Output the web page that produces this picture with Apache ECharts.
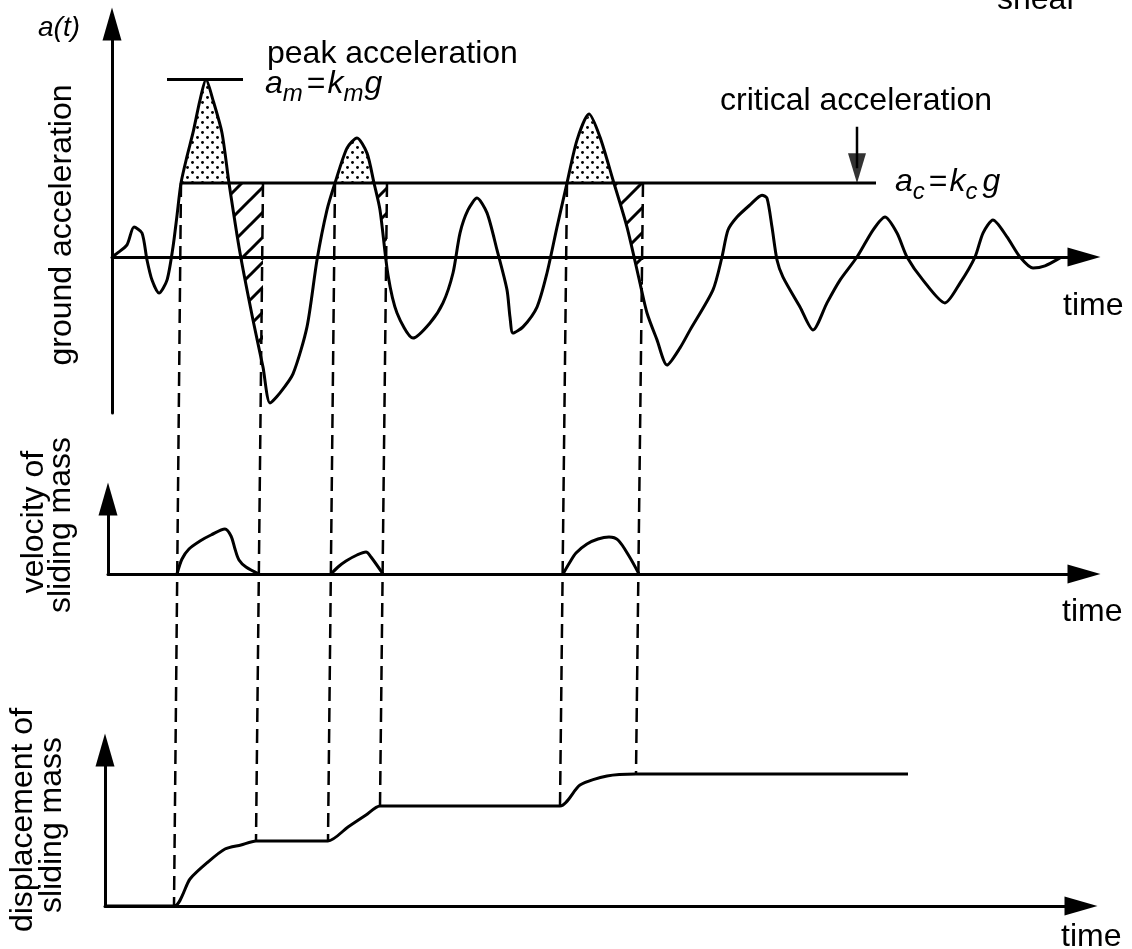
<!DOCTYPE html>
<html>
<head>
<meta charset="utf-8">
<script src="https://cdn.jsdelivr.net/npm/echarts@6/dist/echarts.min.js"></script>
<style>
  html, body { margin: 0; padding: 0; background: #fff; }
  #chart { width: 1132px; height: 949px; }
</style>
</head>
<body>
<div id="chart"></div>
<script>
// Newmark sliding-block idea: ground acceleration, sliding velocity, sliding displacement.
const kc = 0.25;   // critical (yield) acceleration, a_c = k_c g
const km = 0.6;    // peak acceleration, a_m = k_m g

// ground acceleration record [time, a]
const groundAccel = [
  [0,0],[0.5,0.012],[1.5,0.041],[2.2,0.101],[3.0,0.081],[3.5,-0.01],[4.0,-0.078],[4.7,-0.122],
  [5.5,-0.078],[6.1,0.034],[6.5,0.14],[6.9,0.25],[7.5,0.34],[8.1,0.42],[8.8,0.53],[9.4,0.6],
  [10.1,0.53],[11.0,0.419],[11.7,0.25],[12.8,0.014],[14.1,-0.213],[15.1,-0.372],[15.8,-0.493],
  [16.8,-0.459],[18.1,-0.395],[19.5,-0.236],[20.5,-0.01],[21.5,0.159],[22.3,0.25],[23.5,0.368],
  [24.5,0.402],[25.5,0.351],[26.2,0.25],[26.8,0.159],[27.6,-0.061],[28.5,-0.189],[30.1,-0.274],
  [31.8,-0.223],[33.1,-0.155],[34.1,-0.054],[34.8,0.081],[35.6,0.159],[36.5,0.199],[37.5,0.149],
  [38.5,0.024],[39.5,-0.111],[39.8,-0.203],[40.1,-0.257],[41.1,-0.236],[42.5,-0.169],[43.5,-0.054],
  [44.5,0.101],[45.5,0.25],[46.5,0.395],[47.7,0.483],[48.8,0.405],[50.1,0.26],[51.5,0.101],
  [52.8,-0.088],[53.5,-0.189],[54.5,-0.28],[55.5,-0.365],[56.8,-0.307],[57.8,-0.247],[60.1,-0.111],
  [61.0,0],[61.6,0.091],[62.5,0.135],[63.8,0.176],[65.0,0.209],[65.5,0.199],[66.0,0.101],
  [66.5,-0.01],[67.1,-0.068],[68.8,-0.169],[70.1,-0.247],[71.5,-0.155],[72.8,-0.078],[74.5,0],
  [76.1,0.091],[77.3,0.135],[78.5,0.081],[79.5,0],[81.1,-0.078],[83.3,-0.155],[84.8,-0.088],
  [86.3,0],[87.1,0.081],[88.1,0.125],[89.5,0.068],[90.8,0],[92.1,-0.037],[93.3,-0.03],[94.8,-0.003]
];

// sliding episodes: block starts moving when a > kc, stops when relative velocity returns to zero
const slipStart = [6.9, 22.3, 45.5];
const slipEnd   = [15.1, 27.5, 53.1];

// relative velocity of the sliding mass [time, v]
const velocityHump1 = [[6.9,0],[7.4,0.15],[8.1,0.25],[9.2,0.33],[10.3,0.39],[11.7,0.45],[12.3,0.38],[12.7,0.25],[13.1,0.14],[13.8,0.07],[15.1,0]];
const velocityHump2 = [[22.3,0],[23.0,0.07],[23.8,0.13],[24.9,0.19],[25.8,0.22],[26.3,0.17],[27.5,0]];
const velocityHump3 = [[45.5,0],[46.2,0.12],[46.8,0.21],[47.9,0.30],[49.0,0.35],[50.1,0.37],[51.0,0.34],[52.1,0.18],[53.1,0]];

// cumulative displacement of the sliding mass [time, d]
const slidingDisplacement = [
  [0,0],[6.9,0],[8.5,0.27],[10.3,0.44],[12.0,0.57],[13.6,0.61],[15.1,0.65],[22.3,0.65],
  [24.3,0.79],[26.1,0.91],[27.5,1.0],[45.5,1.0],[47.5,1.21],[50.2,1.30],[53.1,1.32],[80.3,1.32]
];

// reference marks
const peakTick = [5.5, 13.1];          // short bar at the peak level
const criticalSpan = [6.9, 76.4];      // extent of the a = kc line
const criticalPointer = { t: 74.5, from: 0.44, head: 0.30 };

// ---------- helpers ----------
function interp(series, t) {
  for (let i = 0; i < series.length - 1; i++) {
    const [t0, v0] = series[i], [t1, v1] = series[i + 1];
    if (t >= t0 && t <= t1) return v0 + (v1 - v0) * (t - t0) / (t1 - t0);
  }
  return series[series.length - 1][1];
}
function downCrossing(ts) {
  for (let i = 0; i < groundAccel.length - 1; i++) {
    const p = groundAccel[i], q = groundAccel[i + 1];
    if (p[0] >= ts - 1e-9 && p[1] >= kc && q[1] < kc) {
      const f = (kc - p[1]) / (q[1] - p[1]);
      return p[0] + f * (q[0] - p[0]);
    }
  }
  return ts;
}
// part of the record above kc, between slip start and the down crossing
function abovePolygon(ts, te) {
  const pts = [[ts, kc]];
  groundAccel.forEach(p => { if (p[0] > ts && p[0] < te && p[1] >= kc) pts.push(p); });
  pts.push([te, kc]);
  return pts;
}
// part of the record below kc, from the down crossing to the end of sliding
function hatchPolygon(td, te) {
  const pts = [[td, kc]];
  groundAccel.forEach(p => { if (p[0] > td && p[0] < te) pts.push(p); });
  pts.push([te, interp(groundAccel, te)]);
  pts.push([te, kc]);
  return pts;
}
const downTimes = slipStart.map(downCrossing);
const dottedPolys = slipStart.map((ts, i) => abovePolygon(ts, downTimes[i]));
const hatchedPolys = slipEnd.map((te, i) => hatchPolygon(downTimes[i], te));

// fill patterns
function dotPattern() {
  const c = document.createElement('canvas');
  c.width = 10; c.height = 10;
  const g = c.getContext('2d');
  g.fillStyle = '#000';
  [[2.5, 2.5], [7.5, 7.5]].forEach(([x, y]) => { g.beginPath(); g.arc(x, y, 1.45, 0, Math.PI * 2); g.fill(); });
  return { image: c, repeat: 'repeat' };
}
function hatchPattern() {
  const S = 25;
  const c = document.createElement('canvas');
  c.width = S; c.height = S;
  const g = c.getContext('2d');
  g.strokeStyle = '#000'; g.lineWidth = 3;
  g.beginPath();
  g.moveTo(-3, S + 3); g.lineTo(S + 3, -3);
  g.moveTo(-3, 3); g.lineTo(3, -3);
  g.moveTo(S - 3, S + 3); g.lineTo(S + 3, S - 3);
  g.stroke();
  return { image: c, repeat: 'repeat' };
}
const DOTS = dotPattern();
const HATCH = hatchPattern();

// ---------- chart ----------
const INK = '#000';
const FONT = '"Liberation Sans", Arial, Helvetica, sans-serif';
const arrowAxis = (extra) => Object.assign({
  show: true,
  symbol: ['none', 'triangle'],
  symbolSize: [19, 33],
  lineStyle: { color: INK, width: 3 }
}, extra || {});
const bare = { axisTick: { show: false }, axisLabel: { show: false }, splitLine: { show: false } };

const chart = echarts.init(document.getElementById('chart'), null, { renderer: 'canvas' });

const option = {
  backgroundColor: '#fff',
  animation: false,
  grid: [
    { left: 112, top: 24, width: 972, height: 389 },
    { left: 108, top: 499, width: 976, height: 75 },
    { left: 105, top: 750, width: 976, height: 156 }
  ],
  xAxis: [
    Object.assign({ type: 'value', gridIndex: 0, min: 0, max: 97.2, axisLine: arrowAxis({ onZero: true }) }, bare),
    Object.assign({ type: 'value', gridIndex: 1, min: 0, max: 97.6, axisLine: arrowAxis() }, bare),
    Object.assign({ type: 'value', gridIndex: 2, min: 0, max: 97.6, axisLine: arrowAxis() }, bare)
  ],
  yAxis: [
    Object.assign({ type: 'value', gridIndex: 0, min: -0.527, max: 0.7872, axisLine: arrowAxis({ onZero: false }) }, bare),
    Object.assign({ type: 'value', gridIndex: 1, min: 0, max: 0.75, axisLine: arrowAxis({ onZero: false }) }, bare),
    Object.assign({ type: 'value', gridIndex: 2, min: 0, max: 1.56, axisLine: arrowAxis({ onZero: false }) }, bare)
  ],
  series: [
    {
      type: 'custom', name: 'excess', xAxisIndex: 0, yAxisIndex: 0, z: 1,
      data: dottedPolys.map((_, i) => [i]),
      renderItem: (params, api) => ({
        type: 'polygon',
        shape: { points: dottedPolys[api.value(0)].map(p => api.coord(p)) },
        style: { fill: DOTS, stroke: null }
      })
    },
    {
      type: 'custom', name: 'deceleration', xAxisIndex: 0, yAxisIndex: 0, z: 1,
      data: hatchedPolys.map((_, i) => [i]),
      renderItem: (params, api) => ({
        type: 'polygon',
        shape: { points: hatchedPolys[api.value(0)].map(p => api.coord(p)) },
        style: { fill: HATCH, stroke: null }
      })
    },
    {
      type: 'line', name: 'ground acceleration', xAxisIndex: 0, yAxisIndex: 0, z: 3,
      data: groundAccel, showSymbol: false, smooth: 0.25,
      lineStyle: { color: INK, width: 3 }
    },
    {
      type: 'line', name: 'critical', xAxisIndex: 0, yAxisIndex: 0, z: 3,
      data: criticalSpan.map(t => [t, kc]), showSymbol: false,
      lineStyle: { color: INK, width: 3 }
    },
    {
      type: 'line', name: 'peak', xAxisIndex: 0, yAxisIndex: 0, z: 3,
      data: peakTick.map(t => [t, km]), showSymbol: false,
      lineStyle: { color: INK, width: 3 }
    },
    {
      type: 'line', name: 'pointer', xAxisIndex: 0, yAxisIndex: 0, z: 3,
      data: [[criticalPointer.t, criticalPointer.from], [criticalPointer.t, criticalPointer.head]],
      showSymbol: false, lineStyle: { color: INK, width: 2.5 }
    },
    {
      type: 'scatter', name: 'pointer head', xAxisIndex: 0, yAxisIndex: 0, z: 4,
      data: [[criticalPointer.t, criticalPointer.head]],
      symbol: 'triangle', symbolRotate: 180, symbolSize: [18, 30],
      itemStyle: { color: INK }
    },
    ...[velocityHump1, velocityHump2, velocityHump3].map(h => ({
      type: 'line', name: 'velocity', xAxisIndex: 1, yAxisIndex: 1, z: 3,
      data: h, showSymbol: false, smooth: 0.3,
      lineStyle: { color: INK, width: 3 }
    })),
    {
      type: 'line', name: 'displacement', xAxisIndex: 2, yAxisIndex: 2, z: 3,
      data: slidingDisplacement, showSymbol: false, smooth: 0.25,
      lineStyle: { color: INK, width: 3 }
    }
  ]
};
chart.setOption(option);

// ---------- dashed projection lines and text ----------
const graphics = [];
const boundaries = [];
slipStart.forEach((t, i) => { boundaries.push(t); boundaries.push(slipEnd[i]); });
boundaries.forEach(t => {
  const top = chart.convertToPixel({ gridIndex: 0 }, [t, kc]);
  const bottom = chart.convertToPixel({ gridIndex: 2 }, [t, interp(slidingDisplacement, t)]);
  graphics.push({
    type: 'line', z: 50,
    shape: { x1: top[0], y1: top[1], x2: bottom[0], y2: bottom[1] },
    style: { stroke: INK, lineWidth: 2.5, lineDash: [14, 7] }
  });
});

function label(text, x, y, size, opts) {
  opts = opts || {};
  const font = (opts.italic ? 'italic ' : '') + size + 'px ' + FONT;
  graphics.push({
    type: 'text', z: 60, x: x, y: y, rotation: opts.rotation || 0,
    style: {
      text: text, font: font, fill: INK,
      align: opts.align || 'left', verticalAlign: 'middle',
      textAlign: opts.align || 'left', textVerticalAlign: 'middle'
    }
  });
}

// formula with italic symbols and subscripts, laid out left to right
const measureCtx = document.createElement('canvas').getContext('2d');
function formula(pieces, x, baseline, size, subSize) {
  let cx = x;
  pieces.forEach(p => {
    const s = p.sub ? subSize : size;
    const font = (p.italic ? 'italic ' : '') + s + 'px ' + FONT;
    measureCtx.font = font;
    const w = measureCtx.measureText(p.t).width;
    const b = p.sub ? baseline + 7 : baseline;
    graphics.push({
      type: 'text', z: 60, x: cx + (p.pre || 0), y: b - 0.33 * s,
      style: { text: p.t, font: font, fill: INK, align: 'left', verticalAlign: 'middle', textAlign: 'left', textVerticalAlign: 'middle' }
    });
    cx += (p.pre || 0) + w + (p.post || 0);
  });
}

label('a(t)', 38, 28, 28, { italic: true });
label('peak acceleration', 267, 54, 32);
formula([
  { t: 'a', italic: true }, { t: 'm', italic: true, sub: true, post: 4 },
  { t: '=', post: 2 }, { t: 'k', italic: true }, { t: 'm', italic: true, sub: true, post: 1 },
  { t: 'g', italic: true }
], 265, 95, 32, 24);
label('critical acceleration', 720, 101, 32);
formula([
  { t: 'a', italic: true }, { t: 'c', italic: true, sub: true, post: 4 },
  { t: '=', post: 2 }, { t: 'k', italic: true }, { t: 'c', italic: true, sub: true, post: 5 },
  { t: 'g', italic: true }
], 895, 193, 32, 24);
label('time', 1063, 306, 32);
label('time', 1062, 612, 32);
label('time', 1061, 937, 32);
label('shear', 997, 0, 32);

label('ground acceleration', 62, 225, 32, { align: 'center', rotation: Math.PI / 2 });
label('velocity of', 34, 522, 32, { align: 'center', rotation: Math.PI / 2 });
label('sliding mass', 61, 525, 32, { align: 'center', rotation: Math.PI / 2 });
label('displacement of', 23, 820, 32, { align: 'center', rotation: Math.PI / 2 });
label('sliding mass', 52, 825, 32, { align: 'center', rotation: Math.PI / 2 });

chart.setOption({ graphic: graphics });
</script>
</body>
</html>
